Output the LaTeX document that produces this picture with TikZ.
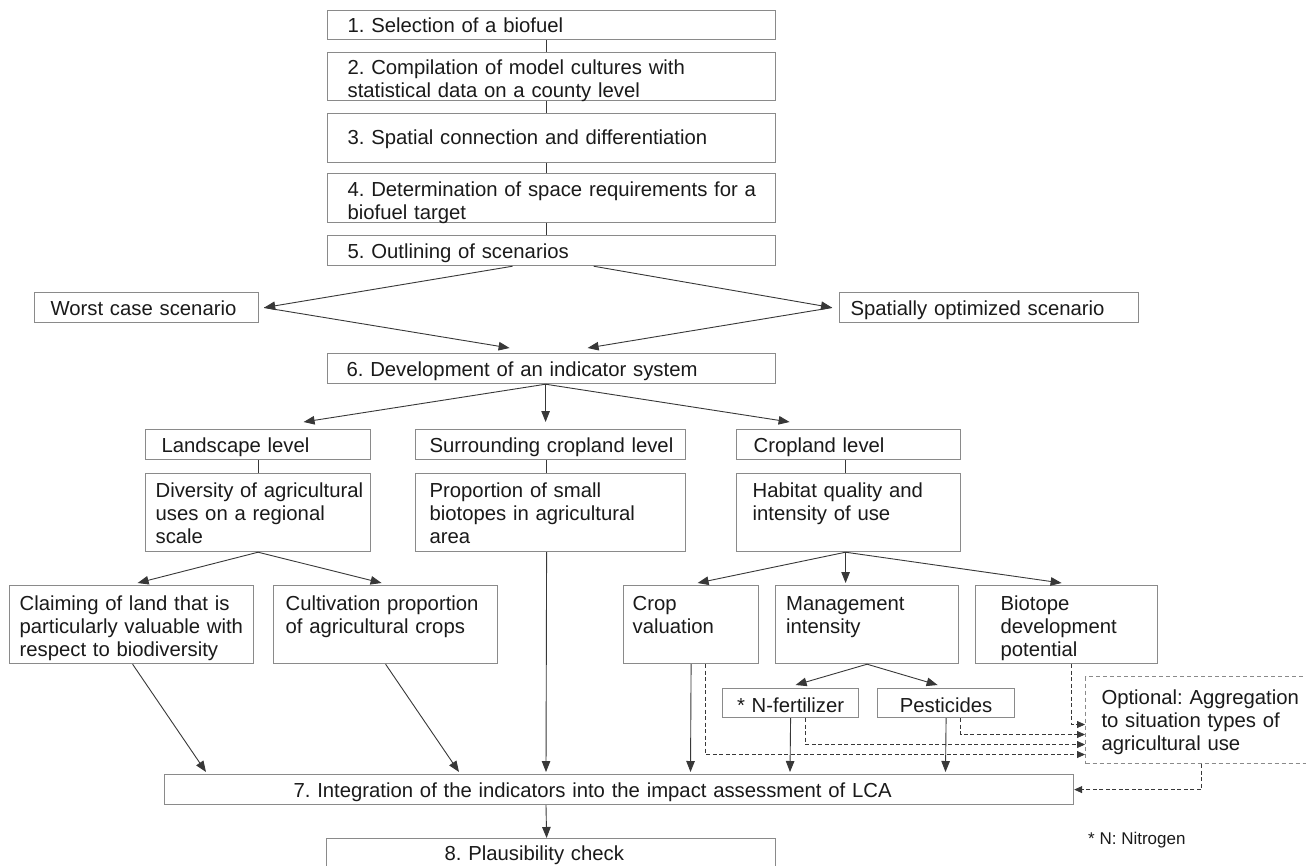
\documentclass[tikz,border=0pt]{standalone}
\usepackage{fontspec}
\setmainfont{Liberation Sans}
\usetikzlibrary{arrows.meta}
\definecolor{boxc}{HTML}{8A8A8A}
\definecolor{linec}{HTML}{383838}
\definecolor{txtc}{HTML}{1A1A1A}
\newcommand\mfs{\fontsize{20.3pt}{23pt}\selectfont\frenchspacing}
\begin{document}
\frenchspacing
\begin{tikzpicture}[x=1pt,y=-1pt,
  bx/.style={draw=boxc, line width=1.2pt, anchor=north west, inner ysep=0pt, align=left, font=\mfs, text=txtc},
  dbx/.style={bx, dash pattern=on 4pt off 3pt, line width=1pt},
  ln/.style={draw=linec, line width=0.9pt},
  ar/.style={ln, -{Triangle[length=11pt,width=8.5pt]}},
  da/.style={draw=linec, line width=0.8pt, dash pattern=on 4pt off 2.5pt, -{Triangle[length=8pt,width=7pt]}},
]
\useasboundingbox (0,0) rectangle (1306,865);
\fill[white] (0,0) rectangle (1306,865);
\clip (0,0) rectangle (1306,865);

% top column
\node[bx, inner xsep=20pt, text width=408pt, text height=22pt, text depth=7pt] (b1) at (327,10) {1. Selection of a biofuel};
\node[bx, inner xsep=20pt, text width=408pt, text height=22pt, text depth=26pt] (b2) at (327,52) {2. Compilation of model cultures with\\statistical data on a county level};
\node[bx, inner xsep=20pt, text width=408pt, text height=31pt, text depth=18pt] (b3) at (327,113) {3. Spatial connection and differentiation};
\node[bx, inner xsep=20pt, text width=408pt, text height=22.5pt, text depth=26.5pt] (b4) at (327,173) {\mbox{4. Determination of space requirements for a}\\biofuel target};
\node[bx, inner xsep=20pt, text width=408pt, text height=23pt, text depth=7pt] (b5) at (327,235) {5. Outlining of scenarios};

% scenarios
\node[bx, inner xsep=16pt, text width=192pt, text height=23pt, text depth=7pt] (worst) at (34,292) {Worst case scenario};
\node[bx, inner xsep=11pt, text width=277pt, text height=23pt, text depth=7pt] (sp) at (839,292) {Spatially optimized scenario};
\node[bx, inner xsep=19pt, text width=410pt, text height=23pt, text depth=7pt] (b6) at (327,353) {6. Development of an indicator system};

% levels
\node[bx, inner xsep=16pt, text width=193pt, text height=23pt, text depth=7pt] (land) at (145,429) {Landscape level};
\node[bx, inner xsep=14pt, text width=242pt, text height=23pt, text depth=7pt] (sur) at (415,429) {\mbox{Surrounding cropland level}};
\node[bx, inner xsep=17pt, text width=190pt, text height=23pt, text depth=7pt] (cl) at (736,429) {Cropland level};

\node[bx, inner xsep=10pt, text width=205pt, text height=24pt, text depth=54pt] (div) at (145,473) {\mbox{Diversity of agricultural}\\uses on a regional\\scale};
\node[bx, inner xsep=14pt, text width=242pt, text height=24pt, text depth=54pt] (prop) at (415,473) {Proportion of small\\biotopes in agricultural\\area};
\node[bx, inner xsep=16pt, text width=192pt, text height=24pt, text depth=54pt] (hab) at (736,473) {Habitat quality and\\intensity of use};

% indicators
\node[bx, inner xsep=10pt, text width=224pt, text height=25pt, text depth=53pt] (claim) at (9,585) {Claiming of land that is\\\mbox{particularly valuable with}\\respect to biodiversity};
\node[bx, inner xsep=12pt, text width=200pt, text height=25pt, text depth=53pt] (cult) at (273,585) {\mbox{Cultivation proportion}\\of agricultural crops};
\node[bx, inner xsep=9pt, text width=117pt, text height=25pt, text depth=53pt] (crop) at (623,585) {Crop\\valuation};
\node[bx, inner xsep=10.5pt, text width=162pt, text height=25pt, text depth=53pt] (mg) at (775,585) {Management\\intensity};
\node[bx, inner xsep=25pt, text width=132pt, text height=25pt, text depth=53pt] (bio) at (975,585) {Biotope\\development\\potential};

\node[bx, align=center, inner xsep=5pt, text width=126pt, text height=24pt, text depth=5pt] (nf) at (722,688) {* N-fertilizer};
\node[bx, align=center, inner xsep=5pt, text width=127pt, text height=24pt, text depth=5pt] (pe) at (877,688) {Pesticides};

\node[dbx, inner xsep=16pt, text width=208pt, text height=28pt, text depth=59pt] (opt) at (1085,676) {Optional: Aggregation\\to situation types of\\agricultural use};

\node[bx, inner xsep=129pt, text width=651pt, text height=23pt, text depth=7pt] (b7) at (164,774) {7. Integration of the indicators into the impact assessment of LCA};
\node[bx, inner xsep=118pt, text width=213pt, text height=22pt, text depth=10pt] (b8) at (326,838) {8. Plausibility check};

\node[font=\fontsize{17pt}{19pt}\selectfont, text=txtc, anchor=west, inner sep=0pt] (note) at (1088,840) {* N: Nitrogen};

% connectors: top column
\draw[ln] ([xshift=-5pt]b1.south) -- ([xshift=-5pt]b2.north);
\draw[ln] ([xshift=-5pt]b2.south) -- ([xshift=-5pt]b3.north);
\draw[ln] ([xshift=-5pt]b3.south) -- ([xshift=-5pt]b4.north);
\draw[ln] ([xshift=-5pt]b4.south) -- ([xshift=-5pt]b5.north);

% scenarios
\draw[ar] ([xshift=-39pt]b5.south) -- ([xshift=5pt]worst.east);
\draw[ar] ([xshift=42pt]b5.south) -- ([xshift=-7pt]sp.west);
\draw[ar] ([xshift=5pt]worst.east) -- ([xshift=-42pt,yshift=5pt]b6.north);
\draw[ar] ([xshift=-7pt]sp.west) -- ([xshift=36pt,yshift=5pt]b6.north);

% levels
\draw[ar] ([xshift=-6pt]b6.south) -- ([xshift=45.5pt,yshift=7pt]land.north);
\draw[ar] ([xshift=-6pt]b6.south) -- ([xshift=-5pt,yshift=7pt]sur.north);
\draw[ar] ([xshift=-6pt]b6.south) -- ([xshift=-59pt,yshift=7pt]cl.north);
\draw[ln] (land.south) -- (div.north);
\draw[ln] ([xshift=-4pt]sur.south) -- ([xshift=-4pt]prop.north);
\draw[ln] ([xshift=-3pt]cl.south) -- ([xshift=-3pt]hab.north);

% indicators
\draw[ar] (div.south) -- ([xshift=6pt,yshift=2pt]claim.north);
\draw[ar] (div.south) -- ([xshift=-4pt,yshift=2pt]cult.north);
\draw[ar] ([xshift=-3pt]hab.south) -- ([xshift=6.5pt,yshift=2pt]crop.north);
\draw[ar] ([xshift=-3pt]hab.south) -- ([xshift=-21.5pt,yshift=2pt]mg.north);
\draw[ar] ([xshift=-3pt]hab.south) -- ([xshift=-5pt,yshift=2pt]bio.north);
\draw[ar] (mg.south) -- ([xshift=5pt,yshift=3pt]nf.north);
\draw[ar] (mg.south) -- ([xshift=-8.5pt,yshift=3pt]pe.north);

% into step 7
\draw[ar] ([xshift=1pt]claim.south) -- ([xshift=42pt,yshift=2pt]b7.north west);
\draw[ar] (cult.south) -- ([xshift=295pt,yshift=2pt]b7.north west);
\draw[ar] ([xshift=-4pt]prop.south) -- ([xshift=382pt,yshift=2pt]b7.north west);
\draw[ar] (crop.south) -- ([xshift=526.5pt,yshift=2pt]b7.north west);
\draw[ar] (nf.south) -- ([xshift=626pt,yshift=2pt]b7.north west);
\draw[ar] (pe.south) -- ([xshift=781.5pt,yshift=2pt]b7.north west);
\draw[ar] ([xshift=382pt]b7.south west) -- ([xshift=-4.5pt]b8.north);

% optional aggregation (dashed)
\draw[da] ([xshift=14.5pt]crop.south) |- ([yshift=-34.5pt]opt.west);
\draw[da] ([xshift=15pt]nf.south) |- ([yshift=-24.5pt]opt.west);
\draw[da] ([xshift=14.5pt]pe.south) |- ([yshift=-14.5pt]opt.west);
\draw[da] ([xshift=5pt]bio.south) |- ([yshift=-4.5pt]opt.west);
\draw[da] ([xshift=116pt]opt.south west) |- (b7.east);
\end{tikzpicture}
\end{document}
